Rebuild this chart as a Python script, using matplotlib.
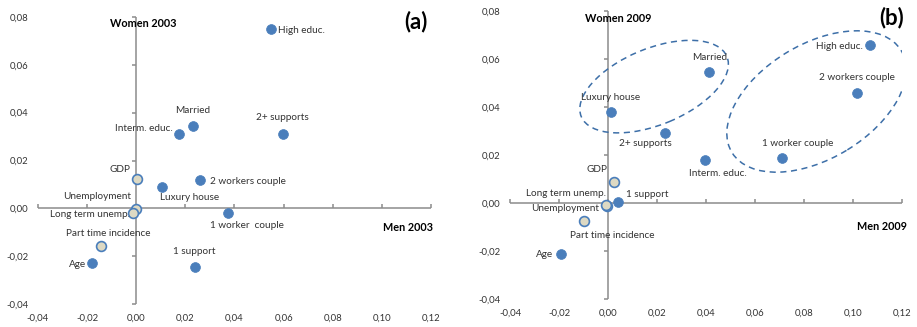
import matplotlib
matplotlib.use("Agg")
import matplotlib.pyplot as plt
from matplotlib.patches import Ellipse

plt.rcParams['font.family'] = ['Lato', 'DejaVu Sans']

# panel (a) data, 2003
labels_a = ["High educ.", "Married", "Interm. educ.", "2+ supports", "GDP", "Luxury house",
            "2 workers couple", "Unemployment", "Long term unemp.", "1 worker  couple",
            "Part time incidence", "Age", "1 support"]
men_2003 = [0.055, 0.0231, 0.0176, 0.0596, 0.0003, 0.0105, 0.0259, -0.0002, -0.0013, 0.0373, -0.0144, -0.0178, 0.0239]
women_2003 = [0.0748, 0.0344, 0.0309, 0.0311, 0.0123, 0.0089, 0.0117, -0.0004, -0.0018, -0.0018, -0.0159, -0.0229, -0.0245]
macro_a = [False, False, False, False, True, False, False, True, True, False, True, False, False]

# panel (b) data, 2009
labels_b = ["High educ.", "2 workers couple", "1 worker couple", "Married", "Luxury house", "2+ supports",
            "Interm. educ.", "GDP", "1 support", "Long term unemp.", "Unemployment",
            "Part time incidence", "Age"]
men_2009 = [0.1069, 0.1015, 0.0712, 0.0414, 0.0012, 0.0233, 0.0396, 0.0024, 0.0042, -0.0006, -0.0008, -0.0099, -0.0191]
women_2009 = [0.0657, 0.046, 0.0189, 0.0545, 0.0378, 0.0293, 0.0179, 0.0088, 0.0005, -0.0012, -0.001, -0.0076, -0.0214]
macro_b = [False, False, False, False, False, False, False, True, False, True, True, True, False]

xticks = [-0.04, -0.02, 0.0, 0.02, 0.04, 0.06, 0.08, 0.10, 0.12]
yticks = [-0.04, -0.02, 0.0, 0.02, 0.04, 0.06, 0.08]

# label placement (pixel offsets, horizontal alignment)
offs_a = [(7, -1, 'left'), (0, 16, 'center'), (-7, 6, 'right'), (0, 16, 'center'), (-7, 9, 'right'),
          (-2, -10, 'left'), (10, -1, 'left'), (-5, 13, 'right'), (-3, -2, 'right'), (-18, -13, 'left'),
          (7, 13, 'center'), (-6, -1, 'right'), (-1, 15, 'center')]
offs_b = [(-7, -1, 'right'), (0, 15, 'center'), (15, 14, 'center'), (0, 15, 'center'), (0, 15, 'center'),
          (-20, -11, 'center'), (13, -13, 'center'), (-17, 12, 'center'), (8, 7, 'left'), (-1, 12, 'right'),
          (-7, -3, 'right'), (28, -14, 'center'), (-8, 0, 'right')]

blue = '#4a7ebb'
beige = '#ddd9c3'
axis_gray = '#8c8c8c'
text_col = '#333333'


def fmt(v):
    return ("%.2f" % v).replace(".", ",")


def draw_panel(ax, xs, ys, labels, macro, offs, women_title, men_title, tag, pos):
    ax.set_xlim(-0.04, 0.12)
    ax.set_ylim(-0.04, 0.08)
    for s in ax.spines.values():
        s.set_visible(False)
    ax.set_xticks(xticks)
    ax.set_xticklabels([fmt(v) for v in xticks])
    ax.set_yticks(yticks)
    ax.set_yticklabels([fmt(v) for v in yticks])
    ax.tick_params(length=0, labelsize=6.8, labelcolor=text_col, pad=7)

    # axes crossing at zero, excel style
    ax.axhline(0, color=axis_gray, lw=1.1, zorder=1)
    ax.axvline(0, color=axis_gray, lw=1.1, zorder=1)
    ax.plot(xticks, [0] * len(xticks), ls='none', marker=2, ms=3, mew=1.1, color=axis_gray, clip_on=False)
    ax.plot([0] * len(yticks), yticks, ls='none', marker=0, ms=3, mew=1.1, color=axis_gray, clip_on=False)

    for x, y, lab, m, (dx, dy, ha) in zip(xs, ys, labels, macro, offs):
        if m:
            ax.scatter(x, y, s=50, color=beige, edgecolors=blue, linewidths=1.2, zorder=3)
        else:
            ax.scatter(x, y, s=50, color=blue, edgecolors=blue, linewidths=0.5, zorder=3)
        ax.annotate(lab, (x, y), xytext=(dx, dy), textcoords='offset pixels', ha=ha, va='center',
                    fontsize=7.2, color=text_col)

    ax.text(pos[0], pos[1], women_title, transform=ax.transAxes, ha='center', va='center',
            fontsize=7.8, fontweight='bold', color='black')
    ax.text(pos[2], pos[3], men_title, transform=ax.transAxes, ha='right', va='center',
            fontsize=7.8, fontweight='bold', color='black')
    ax.text(pos[4], pos[5], tag, transform=ax.transAxes, ha=pos[6], va='center',
            fontsize=16, fontweight='bold', color='black')


fig = plt.figure(figsize=(9.17, 3.27), dpi=100)
ax1 = fig.add_axes([0.0414, 0.0703, 0.4286, 0.8777])
ax2 = fig.add_axes([0.5562, 0.0856, 0.4275, 0.8807])

draw_panel(ax1, men_2003, women_2003, labels_a, macro_a, offs_a, "Women 2003", "Men 2003", "(a)",
           (0.268, 0.976, 1.005, 0.268, 0.962, 0.984, 'center'))
draw_panel(ax2, men_2009, women_2009, labels_b, macro_b, offs_b, "Women 2009", "Men 2009", "(b)",
           (0.276, 0.975, 1.012, 0.251, 0.942, 0.976, 'left'))

# dashed groupings in panel (b)
ax2.add_patch(Ellipse((0.0188, 0.0485), 0.0645, 0.0317, angle=23, fill=False, ls=(0, (4, 3)),
                      lw=1.1, edgecolor='#3d6fa8', zorder=2))
ax2.add_patch(Ellipse((0.0851, 0.0423), 0.0811, 0.0475, angle=32, fill=False, ls=(0, (4, 3)),
                      lw=1.1, edgecolor='#3d6fa8', zorder=2))

plt.savefig("out.png", dpi=100)
